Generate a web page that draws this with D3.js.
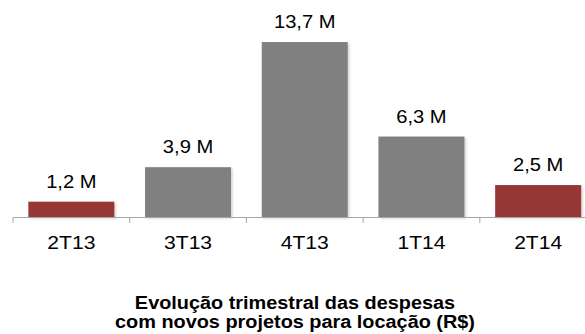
<!DOCTYPE html>
<html>
<head>
<meta charset="utf-8">
<script src="https://cdn.jsdelivr.net/npm/d3@7"></script>
<style>
  html, body { margin: 0; padding: 0; background: #fff; }
  svg { display: block; }
  text { font-family: "Liberation Sans", Arial, sans-serif; fill: #000; }
</style>
</head>
<body>
<script>
// Quarterly spending on new rental projects (R$ millions)
const quarters = ["2T13", "3T13", "4T13", "1T14", "2T14"];
const spending = [1.2, 3.9, 13.7, 6.3, 2.5];
const valueLabels = ["1,2 M", "3,9 M", "13,7 M", "6,3 M", "2,5 M"];
const highlighted = ["2T13", "2T14"];
const titleLines = ["Evolução trimestral das despesas", "com novos projetos para locação (R$)"];

const W = 585, H = 334;
const svg = d3.select("body").append("svg").attr("width", W).attr("height", H);

const defs = svg.append("defs");
const f = defs.append("filter").attr("id", "shadow").attr("x", "-10%").attr("y", "-10%").attr("width", "130%").attr("height", "130%");
f.append("feDropShadow").attr("dx", 1.5).attr("dy", 1.5).attr("stdDeviation", 1).attr("flood-color", "#000").attr("flood-opacity", 0.18);

const x = d3.scaleBand().domain(quarters).range([13, 596.5]).paddingInner(0.263).paddingOuter(0.1315);
const y = d3.scaleLinear().domain([0, 16]).range([217, 217 - 16 * 12.77]);

// bars
svg.append("g").selectAll("rect").data(quarters).join("rect")
  .attr("x", d => x(d))
  .attr("y", (d, i) => y(spending[i]))
  .attr("width", x.bandwidth())
  .attr("height", (d, i) => y(0) - y(spending[i]))
  .attr("fill", d => highlighted.includes(d) ? "#953735" : "#808080")
  .attr("filter", "url(#shadow)");

// category axis with tick marks between the categories
const axis = svg.append("g").attr("transform", `translate(0,${y(0)})`)
  .call(d3.axisBottom(x).tickSize(0).tickFormat(""));
axis.select(".domain").attr("stroke", "#a6a6a6").attr("stroke-width", 1);
const bounds = [13, ...quarters.map(q => x(q) - x.step() * x.paddingInner() / 2 + x.step())];
axis.append("g").selectAll("line").data(bounds).join("line")
  .attr("x1", d => d).attr("x2", d => d).attr("y1", 0).attr("y2", 6)
  .attr("stroke", "#a6a6a6");

// category labels
svg.append("g").selectAll("text").data(quarters).join("text")
  .attr("transform", d => `translate(${x(d) + x.bandwidth() / 2},249) scale(1.14,1)`)
  .attr("text-anchor", "middle").style("font-size", "18.5px")
  .text(d => d);

// value labels
svg.append("g").selectAll("text").data(quarters).join("text")
  .attr("transform", (d, i) => `translate(${x(d) + x.bandwidth() / 2},${y(spending[i]) - 14}) scale(1.12,1)`)
  .attr("text-anchor", "middle").style("font-size", "18px")
  .text((d, i) => valueLabels[i]);

// title
svg.append("g").selectAll("text").data(titleLines).join("text")
  .attr("transform", (d, i) => `translate(295,${309 + i * 19}) scale(1.075,1)`)
  .attr("text-anchor", "middle")
  .style("font-size", "18.5px").style("font-weight", "bold")
  .text(d => d);
</script>
</body>
</html>
